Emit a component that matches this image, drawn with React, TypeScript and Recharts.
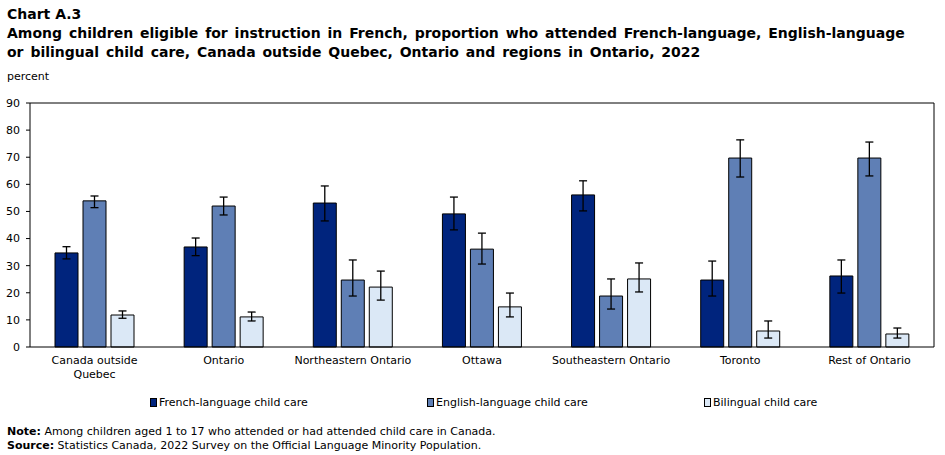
import { BarChart, Bar, XAxis, YAxis, ErrorBar, Legend } from 'recharts';

const regions = [
  'Canada outside Quebec',
  'Ontario',
  'Northeastern Ontario',
  'Ottawa',
  'Southeastern Ontario',
  'Toronto',
  'Rest of Ontario',
];

// percent of children eligible for instruction in French
const french = [34.7, 36.9, 53.1, 49.1, 56.1, 24.7, 26.2];
const english = [53.9, 52.0, 24.7, 36.1, 18.8, 69.7, 69.7];
const bilingual = [11.8, 11.1, 22.1, 14.8, 25.1, 5.9, 4.8];

// confidence interval half-widths [below, above]
const frenchErr: [number, number][] = [[2.2, 2.3], [3.2, 3.3], [6.6, 6.3], [5.9, 6.2], [5.9, 5.2], [5.9, 7.0], [6.3, 5.9]];
const englishErr: [number, number][] = [[2.5, 1.8], [3.3, 3.3], [5.9, 7.4], [5.5, 5.9], [4.8, 6.3], [7.0, 6.7], [6.6, 5.9]];
const bilingualErr: [number, number][] = [[1.2, 1.5], [1.5, 1.8], [4.8, 5.9], [3.7, 5.1], [4.8, 5.9], [2.6, 3.7], [1.5, 2.2]];

const yTicks = [0, 10, 20, 30, 40, 50, 60, 70, 80, 90];

const seriesOrder = ['french', 'english', 'bilingual'];

const seriesNames: Record<string, string> = {
  french: 'French-language child care',
  english: 'English-language child care',
  bilingual: 'Bilingual child care',
};

const COLORS: Record<string, string> = {
  french: '#00247d',
  english: '#5f7fb5',
  bilingual: '#dbe8f6',
};

const FONT = '"DejaVu Sans", Verdana, sans-serif';

const data = regions.map((region, i) => ({
  region,
  french: french[i],
  english: english[i],
  bilingual: bilingual[i],
  frenchErr: frenchErr[i],
  englishErr: englishErr[i],
  bilingualErr: bilingualErr[i],
}));

function RegionTick(props: any) {
  const { x, y, payload } = props;
  const label: string = payload.value;
  const lines = label === 'Canada outside Quebec' ? ['Canada outside', 'Quebec'] : [label];
  return (
    <text x={x} y={y - 2} textAnchor="middle" fontSize={11} fontFamily={FONT} fill="#000">
      {lines.map((l, i) => (
        <tspan key={l} x={x} dy={i === 0 ? 11 : 14}>{l}</tspan>
      ))}
    </text>
  );
}

function LegendRow(props: any) {
  const items = [...(props.payload || [])].sort(
    (a: any, b: any) => seriesOrder.indexOf(a.dataKey) - seriesOrder.indexOf(b.dataKey),
  );
  return (
    <div style={{ display: 'flex', paddingLeft: 150, fontFamily: FONT, fontSize: 11, height: 20, alignItems: 'center' }}>
      {items.map((it: any) => (
        <div key={it.value} style={{ width: 277, flexShrink: 0, display: 'flex', alignItems: 'center' }}>
          <span style={{
            display: 'inline-block', width: 7, height: 9, background: it.color,
            border: '1px solid #000', boxSizing: 'border-box', marginRight: 2,
          }} />
          <span>{it.value}</span>
        </div>
      ))}
    </div>
  );
}

export default function App() {
  return (
    <div style={{ position: 'absolute', left: 0, top: 0, width: 945, height: 455, background: '#fff', fontFamily: FONT, color: '#000', overflow: 'hidden' }}>
      <div style={{ position: 'absolute', left: 7, top: 5, fontWeight: 700, fontSize: 14, lineHeight: '19px' }}>
        <div>Chart A.3</div>
        <div style={{ wordSpacing: 2 }}>Among children eligible for instruction in French, proportion who attended French-language, English-language</div>
        <div style={{ wordSpacing: 2 }}>or bilingual child care, Canada outside Quebec, Ontario and regions in Ontario, 2022</div>
      </div>
      <div style={{ position: 'absolute', left: 7, top: 70, fontSize: 11 }}>percent</div>
      <div style={{ position: 'absolute', left: 0, top: 0 }}>
        <BarChart
          width={945}
          height={420}
          data={data}
          margin={{ top: 102, right: 10, bottom: 8, left: 0 }}
          barCategoryGap={24}
          barGap={5}
        >
          <XAxis
            dataKey="region"
            tickLine={false}
            axisLine={{ stroke: '#000' }}
            interval={0}
            height={45}
            tick={<RegionTick />}
          />
          {/* top and right edges of the plot frame */}
          <XAxis xAxisId="frameTop" orientation="top" dataKey="region" height={1}
            tick={false} tickLine={false} axisLine={{ stroke: '#000' }} />
          <YAxis yAxisId="frameRight" orientation="right" width={1} domain={[0, 90]}
            tick={false} tickLine={false} axisLine={{ stroke: '#000' }} />
          <YAxis
            width={30}
            domain={[0, 90]}
            ticks={yTicks}
            tickSize={4}
            tickLine={{ stroke: '#000' }}
            axisLine={{ stroke: '#000' }}
            tick={{ fontSize: 11, fontFamily: FONT, fill: '#000', dx: -4 }}
            interval={0}
          />
          <Legend verticalAlign="bottom" height={20} content={<LegendRow />} />
          {seriesOrder.map((key) => (
            <Bar
              key={key}
              dataKey={key}
              name={seriesNames[key]}
              fill={COLORS[key]}
              stroke="#000"
              strokeWidth={1}
              barSize={23}
              isAnimationActive={false}
            >
              <ErrorBar dataKey={`${key}Err`} width={4} stroke="#000" strokeWidth={1.3} />
            </Bar>
          ))}
        </BarChart>
      </div>
      <div style={{ position: 'absolute', left: 7, top: 425, fontSize: 11, lineHeight: '14px' }}>
        <div><b>Note:</b> Among children aged 1 to 17 who attended or had attended child care in Canada.</div>
        <div><b>Source:</b> Statistics Canada, 2022 Survey on the Official Language Minority Population.</div>
      </div>
    </div>
  );
}
